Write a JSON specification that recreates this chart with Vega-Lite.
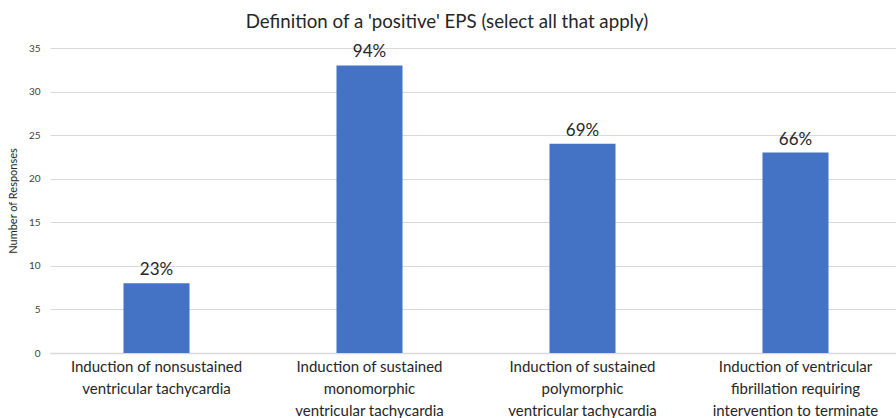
{
  "$schema": "https://vega.github.io/schema/vega-lite/v6.json",
  "width": 852,
  "height": 305,
  "autosize": {"type": "none"},
  "padding": {"left": 50, "top": 48, "right": 0, "bottom": 65},
  "background": "white",
  "title": {
    "text": "Definition of a 'positive' EPS (select all that apply)",
    "font": "Lato",
    "fontSize": 18.7,
    "fontWeight": "normal",
    "color": "#262626",
    "anchor": "middle",
    "dx": -29,
    "offset": 11
  },
  "data": {
    "values": [
      {"category": "Induction of nonsustained|ventricular tachycardia", "responses": 8, "pct": "23%"},
      {"category": "Induction of sustained|monomorphic|ventricular tachycardia", "responses": 33, "pct": "94%"},
      {"category": "Induction of sustained|polymorphic|ventricular tachycardia", "responses": 24, "pct": "69%"},
      {"category": "Induction of ventricular|fibrillation requiring|intervention to terminate", "responses": 23, "pct": "66%"}
    ]
  },
  "config": {
    "view": {"stroke": null},
    "font": "Lato"
  },
  "encoding": {
    "x": {
      "field": "category",
      "type": "nominal",
      "sort": null,
      "scale": {"paddingInner": 0.69, "paddingOuter": 0.345},
      "axis": {
        "title": null,
        "labelAngle": 0,
        "labelExpr": "split(datum.label, '|')",
        "labelFont": "Lato",
        "labelFontSize": 15,
        "labelColor": "#262626",
        "labelLineHeight": 22,
        "labelPadding": 6,
        "labelLimit": 250,
        "ticks": false,
        "domainColor": "#d9d9d9",
        "domainWidth": 1.5
      }
    },
    "y": {
      "field": "responses",
      "type": "quantitative",
      "scale": {"domain": [0, 35]},
      "axis": {
        "title": "Number of Responses",
        "titleFont": "Lato",
        "titleFontSize": 11,
        "titleFontWeight": "normal",
        "titleColor": "#262626",
        "titlePadding": 10,
        "values": [0, 5, 10, 15, 20, 25, 30, 35],
        "labelFont": "Lato",
        "labelFontSize": 10,
        "labelColor": "#404040",
        "labelPadding": 10,
        "ticks": false,
        "domain": false,
        "gridColor": "#d9d9d9",
        "gridWidth": 1
      }
    }
  },
  "layer": [
    {"mark": {"type": "bar", "color": "#4472C4"}},
    {
      "mark": {"type": "text", "dy": -13, "fontSize": 17, "color": "#262626", "font": "Lato"},
      "encoding": {"text": {"field": "pct"}}
    }
  ]
}
